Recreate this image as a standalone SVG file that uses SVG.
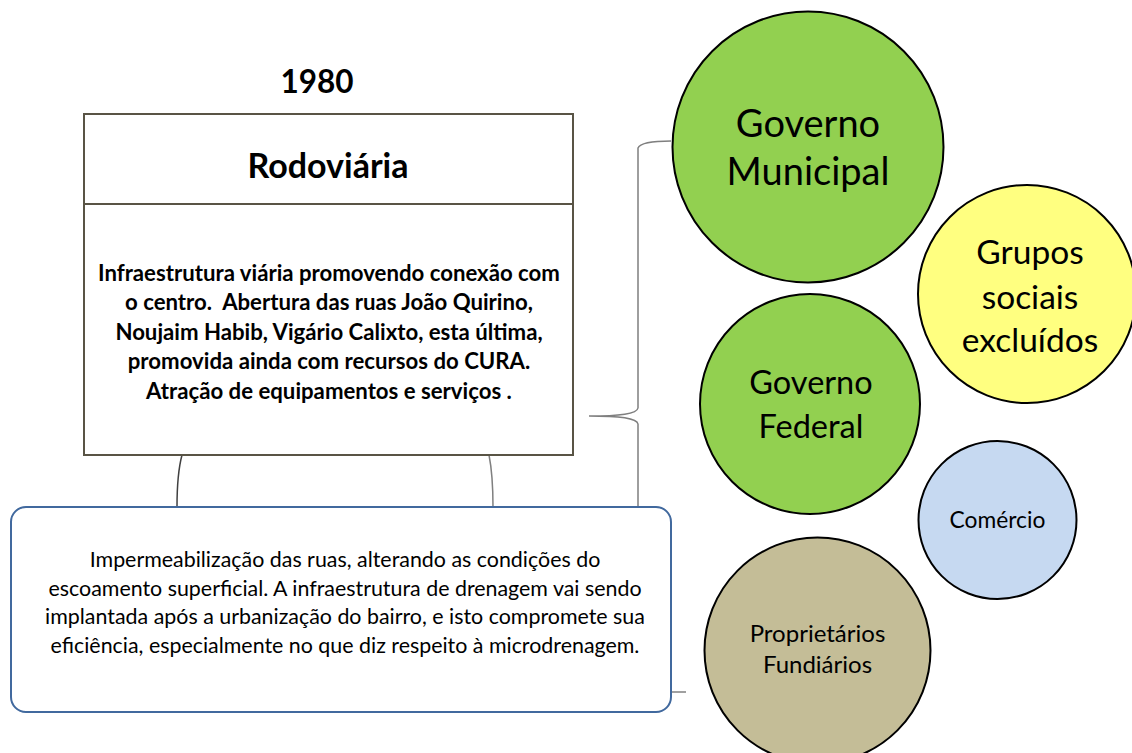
<svg xmlns="http://www.w3.org/2000/svg" width="1132" height="753" viewBox="0 0 1132 753">
<style>
text{font-family:Lato,"Open Sans","Liberation Sans",sans-serif;fill:#000;text-anchor:middle}
.b{font-weight:bold}
.body{font-weight:bold;font-size:22.2px}
.low{font-size:21.4px}
.circ{stroke:#000;stroke-width:2}
.conn{fill:none;stroke-width:1.5}
</style>
<rect width="1132" height="753" fill="#fff"/>
<g id="connectors">
<path class="conn" stroke="#7f7f7f" d="M671,141 C652,141 640,143 638,148 L638,408 C637,414 620,416 589,416 C620,416 637,418 638,424 L638,507"/>
<path class="conn" stroke="#404040" d="M182,455 C178,470 177,490 177,507"/>
<path class="conn" stroke="#808080" d="M489,455 C492,470 493,490 493,507"/>
<path class="conn" stroke="#808080" d="M672,692 L686,692"/>
</g>
<g id="year">
<text class="b" x="317" y="93" font-size="31.5">1980</text>
</g>
<g id="rodoviaria">
<rect x="84" y="114" width="489" height="341" fill="#fff" stroke="#595445" stroke-width="2"/>
<line x1="84" y1="204" x2="573" y2="204" stroke="#595445" stroke-width="2"/>
<text class="b" x="328" y="178" font-size="34">Rodoviária</text>
<text class="body" x="329" y="280.5">Infraestrutura viária promovendo conexão com</text>
<text class="body" x="329" y="310" xml:space="preserve">o centro.  Abertura das ruas João Quirino,</text>
<text class="body" x="329" y="339.5">Noujaim Habib, Vigário Calixto, esta última,</text>
<text class="body" x="329" y="369">promovida ainda com recursos do CURA.</text>
<text class="body" x="329" y="398.5">Atração de equipamentos e serviços .</text>
</g>
<g id="impermeabilizacao">
<rect x="11" y="507" width="660" height="205" rx="15" fill="#fff" stroke="#41699e" stroke-width="2"/>
<text class="low" x="345" y="567">Impermeabilização das ruas, alterando as condições do</text>
<text class="low" x="345" y="596">escoamento superficial. A infraestrutura de drenagem vai sendo</text>
<text class="low" x="345" y="624">implantada após a urbanização do bairro, e isto compromete sua</text>
<text class="low" x="345" y="652.5">eficiência, especialmente no que diz respeito à microdrenagem.</text>
</g>
<g id="governo-municipal">
<circle class="circ" cx="808" cy="147" r="135.5" fill="#92d050"/>
<text x="808" y="137" font-size="38">Governo</text>
<text x="808" y="185" font-size="38">Municipal</text>
</g>
<g id="grupos-sociais">
<circle class="circ" cx="1027" cy="294" r="109" fill="#ffff80"/>
<text x="1030" y="263.5" font-size="33.5">Grupos</text>
<text x="1030" y="308.5" font-size="33.5">sociais</text>
<text x="1030" y="351.5" font-size="33.5">excluídos</text>
</g>
<g id="governo-federal">
<circle class="circ" cx="810" cy="404" r="110" fill="#92d050"/>
<text x="811" y="394" font-size="32.5">Governo</text>
<text x="811" y="438" font-size="32.5">Federal</text>
</g>
<g id="comercio">
<circle class="circ" cx="997.5" cy="520" r="79" fill="#c6d9f1"/>
<text x="997.5" y="528" font-size="22.8">Comércio</text>
</g>
<g id="proprietarios">
<circle class="circ" cx="817.5" cy="650.5" r="113" fill="#c4bd97"/>
<text x="817.5" y="642" font-size="24">Proprietários</text>
<text x="817.5" y="673" font-size="24">Fundiários</text>
</g>
</svg>
